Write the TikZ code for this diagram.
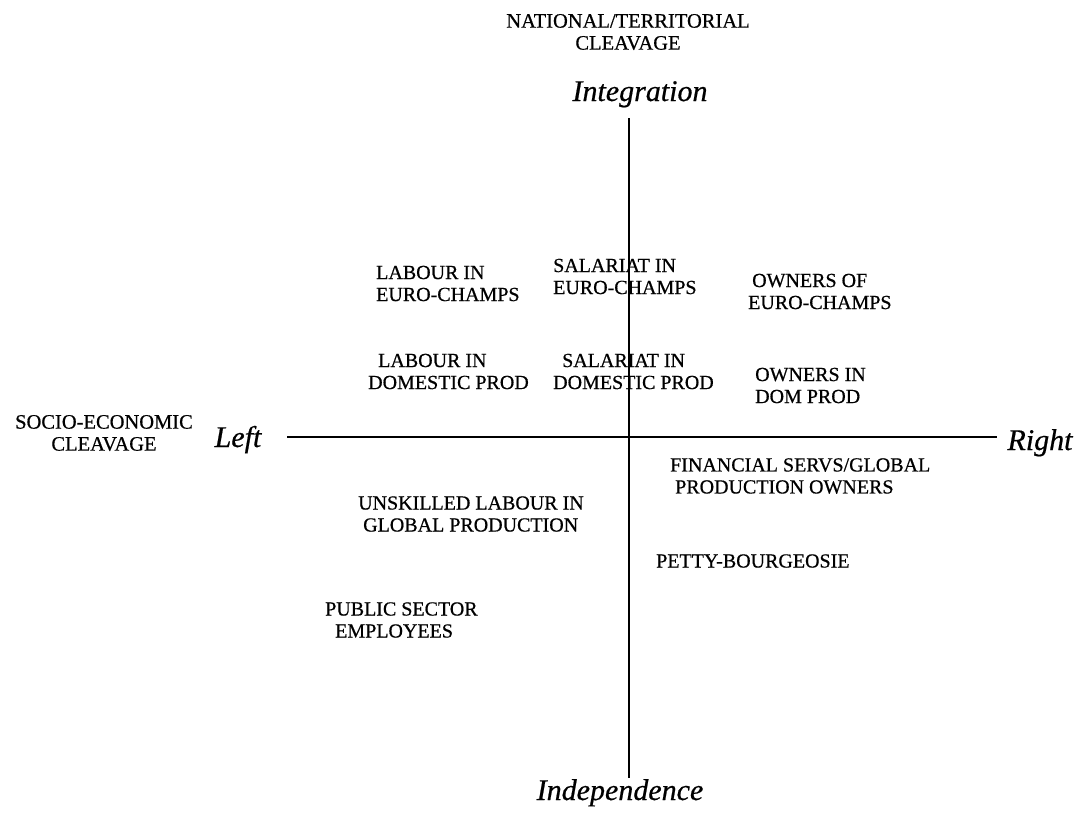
\documentclass[tikz,border=0pt]{standalone}
\usepackage{fontspec}
\setmainfont[FakeBold=0.6]{Liberation Serif}
\begin{document}
\begin{tikzpicture}[x=1pt,y=-1pt,
  vaxis/.style={line width=2.6pt},
  haxis/.style={line width=2.2pt},
  group/.style={font=\fontsize{20}{22}\selectfont, align=left, inner sep=0pt, anchor=west},
  title/.style={font=\fontsize{20.5}{22}\selectfont, align=center, inner sep=0pt},
  pole/.style={font=\fontsize{30}{32}\selectfont\itshape, inner sep=0pt, anchor=base}]
\useasboundingbox (0,0) rectangle (1079,815);

% axes
\coordinate (ntop) at (629,118);
\coordinate (nbot) at (629,778);
\coordinate (wend) at (287,437);
\coordinate (eend) at (997,437);
\draw[vaxis] (ntop) -- (nbot);
\draw[haxis] (wend) -- (eend);

% axis titles and poles
\node[title] (natcl) at (628,32) {NATIONAL/TERRITORIAL\\CLEAVAGE};
\node[title] (soccl) at (104,433) {SOCIO-ECONOMIC\\CLEAVAGE};
\node[pole] (integ) at (640,101) {Integration};
\node[pole] (indep) at (620,800) {Independence};
\node[pole] (left) at (238,447) {Left};
\node[pole] (right) at (1040,450) {Right};

% social groups
\node[group] (labeuro) at (376,283.5) {LABOUR IN\\EURO-CHAMPS};
\node[group] (saleuro) at (553,276.5) {SALARIAT IN\\EURO-CHAMPS};
\node[group] (owneuro) at (748,291.5) {\hspace*{4pt}OWNERS OF\\EURO-CHAMPS};
\node[group] (labdom) at (368,371.5) {\hspace*{10pt}LABOUR IN\\DOMESTIC PROD};
\node[group] (saldom) at (553,371.5) {\hspace*{9pt}SALARIAT IN\\DOMESTIC PROD};
\node[group] (owndom) at (755,385.5) {OWNERS IN\\DOM PROD};
\node[group] (finserv) at (670,476) {FINANCIAL SERVS/GLOBAL\\\hspace*{5pt}PRODUCTION OWNERS};
\node[group] (unskill) at (358,514) {UNSKILLED LABOUR IN\\\hspace*{5pt}GLOBAL PRODUCTION};
\node[group] (petty) at (656,561) {PETTY-BOURGEOSIE};
\node[group] (public) at (325,620) {PUBLIC SECTOR\\\hspace*{10pt}EMPLOYEES};
\end{tikzpicture}
\end{document}
